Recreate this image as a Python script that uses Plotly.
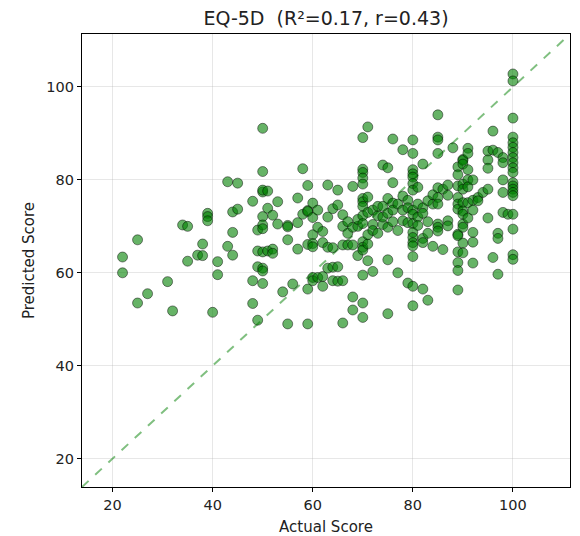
import plotly.graph_objects as go

chart_title = "EQ-5D \u00a0(R²=0.17, r=0.43)"
x_label = "Actual Score"
y_label = "Predicted Score"
tick_values = [20, 40, 60, 80, 100]
axis_limits = [13.9, 111.4]

actual_scores = [
    22, 22, 25, 25, 27, 31, 32, 34, 35, 35, 37, 38, 38, 39, 39, 39, 40, 41, 41,
    43, 43, 44, 44, 44, 45, 45, 48, 48, 48, 49, 49, 49, 49,
    50, 50, 50, 50, 50, 50, 50, 50, 50, 50, 50,
    51, 51, 51, 52, 52, 52, 53, 53, 54, 55, 55, 55, 55, 56, 57, 57, 57, 58, 58,
    59, 59, 59, 59, 59, 59,
    60, 60, 60, 60, 60, 60, 60,
    61, 61, 61, 62, 62, 62, 62, 63, 63, 63, 63, 64, 64, 64, 64, 65, 65, 65, 65,
    66, 66, 66, 66, 66, 67, 67, 67, 68, 68, 68, 68, 68, 69, 69, 69,
    70, 70, 70, 70, 70, 70, 70, 70, 70, 70, 70, 70, 70, 70, 70, 70,
    71, 71, 71, 71, 71, 71, 72, 72, 72, 72, 73, 73, 73, 74, 74, 74, 74,
    75, 75, 75, 75, 75, 75, 76, 76, 76, 76, 76, 77, 77, 77, 78, 78, 78, 78,
    79, 79, 79, 79,
    80, 80, 80, 80, 80, 80, 80, 80, 80, 80, 80, 80, 80, 80, 80, 80, 80,
    81, 81, 81, 81, 82, 82, 82, 82, 82, 82, 83, 83, 83, 83, 84, 84, 84,
    85, 85, 85, 85, 85, 85, 85, 85, 85, 85, 86, 86, 87, 87, 87, 87, 88,
    89, 89, 89, 89, 89, 89, 89, 89, 89, 89, 89, 89,
    90, 90, 90, 90, 90, 90, 90, 90, 90, 90, 90, 90,
    91, 91, 91, 91, 91, 91, 91, 92, 92, 92, 92, 92, 92, 93, 93, 94,
    95, 95, 95, 95, 95, 96, 96, 96, 97, 97, 97, 97, 98, 98, 98, 98, 98, 99,
    100, 100, 100, 100, 100, 100, 100, 100, 100, 100,
    100, 100, 100, 100, 100, 100, 100, 100, 100, 100,
]

predicted_scores = [
    63.4, 60.0, 67.1, 53.5, 55.5, 58.1, 51.8, 70.3, 70.0, 62.5, 63.8, 66.2, 63.7, 72.8, 72.1, 71.2, 51.5, 62.4, 59.6,
    79.6, 65.7, 73.1, 68.7, 63.8, 79.3, 73.7, 75.4, 58.3, 53.4, 69.2, 61.3, 49.8, 64.7,
    91.1, 81.8, 77.4, 77.8, 72.1, 70.3, 69.5, 64.5, 61.0, 60.4, 57.7,
    77.6, 73.9, 64.7, 72.4, 65.1, 64.2, 75.3, 70.5, 55.9, 70.2, 69.9, 67.1, 49.0, 57.6, 76.1, 70.8, 65.1, 82.4, 72.6,
    78.8, 73.4, 73.2, 66.1, 56.5, 49.0,
    75.0, 71.9, 68.2, 66.3, 65.6, 59.0, 58.3,
    73.5, 69.8, 59.0, 68.9, 66.5, 59.2, 57.1, 78.9, 72.0, 65.5, 61.0, 73.8, 65.4, 61.2, 58.3, 77.8, 74.6, 61.3, 58.2,
    66.0, 58.3, 49.2, 72.5, 70.0, 66.0, 71.0, 68.5, 78.6, 54.8, 52.0, 69.8, 66.0, 63.7, 70.0, 71.5,
    89.1, 82.3, 81.6, 80.4, 79.1, 76.0, 75.3, 74.3, 72.3, 70.6, 66.7, 65.5, 64.9, 59.5, 53.5, 50.4,
    91.4, 76.3, 66.2, 62.6, 68.2, 73.0, 73.5, 60.3, 70.4, 69.1, 72.3, 74.3, 68.5, 83.2, 74.3, 70.4, 72.0,
    82.6, 76.0, 72.8, 62.8, 51.2, 69.8, 88.8, 79.4, 75.0, 73.5, 71.0, 60.0, 74.8, 69.1, 86.5, 76.5, 71.2, 73.5,
    75.6, 74.0, 57.8, 70.8,
    88.6, 85.7, 82.2, 81.3, 80.6, 79.2, 77.8, 73.5, 72.6, 70.6, 68.7, 67.6, 66.5, 65.8, 63.5, 57.1, 52.9,
    78.4, 74.8, 72.0, 70.2, 83.4, 74.0, 67.4, 66.5, 56.5, 72.8, 75.5, 54.1, 71.0, 68.5, 74.8, 65.7, 76.8,
    94.0, 89.2, 88.6, 85.7, 78.3, 76.2, 74.8, 70.5, 69.8, 69.0, 78.0, 65.0, 78.9, 76.7, 71.2, 70.1, 86.9,
    82.8, 81.1, 78.7, 76.2, 74.8, 73.7, 68.3, 68.0, 64.5, 62.2, 60.5, 56.3,
    84.4, 84.2, 83.4, 79.1, 78.0, 75.1, 73.3, 72.6, 70.5, 69.8, 66.4, 64.3,
    86.8, 85.7, 82.2, 80.0, 78.5, 75.1, 71.8, 80.0, 75.6, 73.5, 68.7, 66.6, 62.1, 76.2, 75.5, 77.3,
    86.2, 84.3, 82.5, 78.0, 71.8, 90.5, 86.4, 63.3, 85.9, 68.5, 67.4, 59.7, 84.8, 83.7, 80.0, 77.3, 73.0, 72.6,
    102.8, 101.3, 93.3, 89.2, 88.0, 87.0, 85.9, 84.8, 83.7, 82.6,
    81.6, 79.4, 78.7, 78.0, 77.3, 76.6, 72.6, 69.4, 63.9, 62.9,
]

fig = go.Figure()

fig.add_trace(go.Scatter(
    x=axis_limits, y=axis_limits, mode="lines",
    line=dict(color="rgba(0,128,0,0.5)", width=2, dash="dash"),
    hoverinfo="skip", showlegend=False,
))

fig.add_trace(go.Scatter(
    x=actual_scores, y=predicted_scores, mode="markers",
    marker=dict(size=10, color="rgba(0,128,0,0.6)",
                line=dict(color="rgba(0,0,0,0.65)", width=0.7)),
    showlegend=False,
))

axis_common = dict(
    range=axis_limits, tickvals=tick_values, ticks="outside", ticklen=4,
    tickwidth=1, tickcolor="black", showline=True, linecolor="black",
    linewidth=1.2, mirror=True, showgrid=True, automargin=False,
    gridcolor="rgba(176,176,176,0.3)", gridwidth=1, zeroline=False,
    tickfont=dict(size=14.5, color="#222"),
)

fig.update_layout(
    width=580, height=536,
    margin=dict(l=82, r=10, t=34, b=49),
    paper_bgcolor="white", plot_bgcolor="white",
    font=dict(family="DejaVu Sans", color="#222"),
    title=dict(text=chart_title, x=(82 + 570) / 2 / 580, xanchor="center",
               y=1 - 18 / 536, yanchor="middle", font=dict(size=19)),
    xaxis=dict(axis_common, title=dict(text=x_label, font=dict(size=15), standoff=9)),
    yaxis=dict(axis_common, title=dict(text=y_label, font=dict(size=15), standoff=8)),
)

fig.write_html("out.html")
